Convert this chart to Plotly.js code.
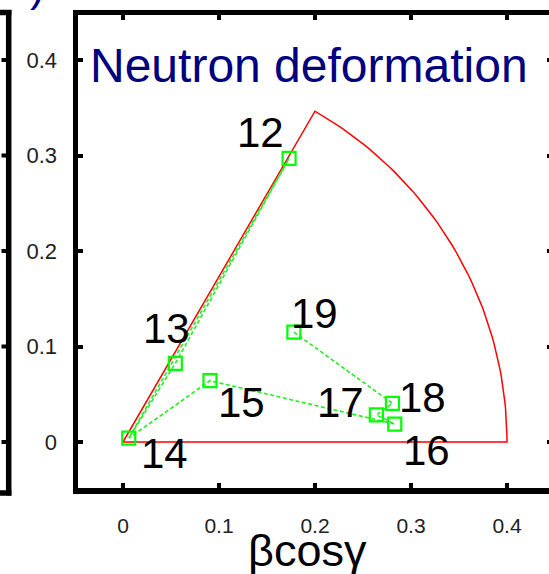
<!DOCTYPE html>
<html><head><meta charset="utf-8">
<script src="https://cdn.plot.ly/plotly-3.0.1.min.js"></script>
<style>html,body{margin:0;padding:0;overflow:hidden;background:#fff;} #chart{width:560px;height:574px;}</style>
</head><body><div id="chart"></div>
<script>
// ---- data ----
const nuclei = ['12', '13', '14', '15', '16', '17', '18', '19'];
const betaCosGamma = [0.173, 0.0545, 0.006, 0.0906, 0.2831, 0.2639, 0.2807, 0.178];
const betaSinGamma = [0.297, 0.0824, 0.004, 0.0642, 0.0188, 0.0283, 0.0405, 0.115];
const linkOrder = ['19', '18', '17', '16', '15', '14', '13', '12', '14'];
const tickVals = [0, 0.1, 0.2, 0.3, 0.4];
const tickText = ['0', '0.1', '0.2', '0.3', '0.4'];
const betaMax = 0.4;
const gammaMaxDeg = 60;
const titleText = 'Neutron deformation';
const xTitleText = 'βcosγ';

// ---- layout geometry ----
const W = 560, H = 574;
const M = {l: 78, r: 8, t: 15, b: 86};
const PW = W - M.l - M.r, PH = H - M.t - M.b;
const xRange = [-0.046875, 0.446875];
const yRange = [-0.04817, 0.44712];
const px2paperX = p => (p - M.l) / PW;
const px2paperY = p => (M.t + PH - p) / PH;
const val2paperY = v => (v - yRange[0]) / (yRange[1] - yRange[0]);

// label offsets (pixels) relative to each point
const labelShift = {
  '12': [-29, 26], '13': [-9, 35], '14': [36, -15], '15': [32, -22],
  '16': [32, -26], '17': [-36, 12], '18': [30, 6], '19': [21, 19]
};

// sector boundary beta <= betaMax, 0 <= gamma <= gammaMaxDeg
const secX = [0], secY = [0];
for (let g = 0; g <= gammaMaxDeg; g += 1) {
  const r = g * Math.PI / 180;
  secX.push(betaMax * Math.cos(r));
  secY.push(betaMax * Math.sin(r));
}
secX.push(0); secY.push(0);

const idx = k => nuclei.indexOf(k);
const linkX = linkOrder.map(k => betaCosGamma[idx(k)]);
const linkY = linkOrder.map(k => betaSinGamma[idx(k)]);

const traces = [
  {x: secX, y: secY, mode: 'lines', line: {color: '#ff0000', width: 1.5}, hoverinfo: 'skip'},
  {x: linkX, y: linkY, mode: 'lines', line: {color: '#22ee22', width: 1.6, dash: '4px,2.5px'}, hoverinfo: 'skip'},
  {x: betaCosGamma, y: betaSinGamma, mode: 'markers',
   marker: {symbol: 'square-open', size: 13, color: '#00ff00', line: {width: 2.2, color: '#00ff00'}}}
];

const numFont = {family: 'Liberation Sans, Arial, sans-serif', size: 42, color: '#000'};
const annotations = nuclei.map((n, i) => ({
  x: betaCosGamma[i], y: betaSinGamma[i], xref: 'x', yref: 'y', text: n, showarrow: false,
  xshift: labelShift[n][0], yshift: labelShift[n][1], font: numFont,
  xanchor: 'center', yanchor: 'middle'
}));
annotations.push({
  xref: 'paper', yref: 'paper', x: px2paperX(307), y: px2paperY(550), text: xTitleText,
  showarrow: false, xanchor: 'center', yanchor: 'middle',
  font: {family: 'Liberation Sans, Arial, sans-serif', size: 45, color: '#000'}
});
annotations.push({
  xref: 'paper', yref: 'paper', x: px2paperX(37), y: px2paperY(-14), text: ')',
  showarrow: false, xanchor: 'center', yanchor: 'middle',
  font: {family: 'Liberation Sans, Arial, sans-serif', size: 44, color: '#000080'}
});

// neighbouring panel's frame edge at the far left
const blk = {color: '#000', width: 5.5};
const shapes = [
  {type: 'line', xref: 'paper', yref: 'paper', x0: px2paperX(8.7), x1: px2paperX(8.7), y0: px2paperY(10), y1: px2paperY(495.5), line: blk},
  {type: 'line', xref: 'paper', yref: 'paper', x0: px2paperX(-5), x1: px2paperX(11.4), y0: px2paperY(12.5), y1: px2paperY(12.5), line: blk},
  {type: 'line', xref: 'paper', yref: 'paper', x0: px2paperX(-5), x1: px2paperX(11.4), y0: px2paperY(493), y1: px2paperY(493), line: blk}
];
tickVals.forEach(v => shapes.push({
  type: 'line', xref: 'paper', yref: 'paper', x0: px2paperX(1.5), x1: px2paperX(7), y0: val2paperY(v), y1: val2paperY(v),
  line: {color: '#000', width: 4}
}));

const axBase = {
  showgrid: false, zeroline: false, showline: true, linecolor: '#000', linewidth: 5.5,
  mirror: 'ticks', ticks: 'inside', ticklen: 5, tickwidth: 4, tickcolor: '#000',
  tickvals: tickVals, ticktext: tickText,
  tickfont: {family: 'Liberation Sans, Arial, sans-serif', size: 21, color: '#222'}
};

const layout = {
  width: W, height: H, margin: M, showlegend: false,
  paper_bgcolor: '#fff', plot_bgcolor: '#fff',
  title: {text: titleText, font: {family: 'Liberation Sans, Arial, sans-serif', size: 48, color: '#000080'},
          xref: 'container', yref: 'container', x: 90 / W, xanchor: 'left', y: 1 - 65 / H, yanchor: 'middle'},
  xaxis: Object.assign({}, axBase, {range: xRange, ticklabelstandoff: 14}),
  yaxis: Object.assign({}, axBase, {range: yRange, ticklabelstandoff: 11,
    tickfont: {family: 'Liberation Sans, Arial, sans-serif', size: 22, color: '#222'}}),
  annotations: annotations, shapes: shapes
};

Plotly.newPlot('chart', traces, layout, {displayModeBar: false, staticPlot: true});
</script>
</body></html>
